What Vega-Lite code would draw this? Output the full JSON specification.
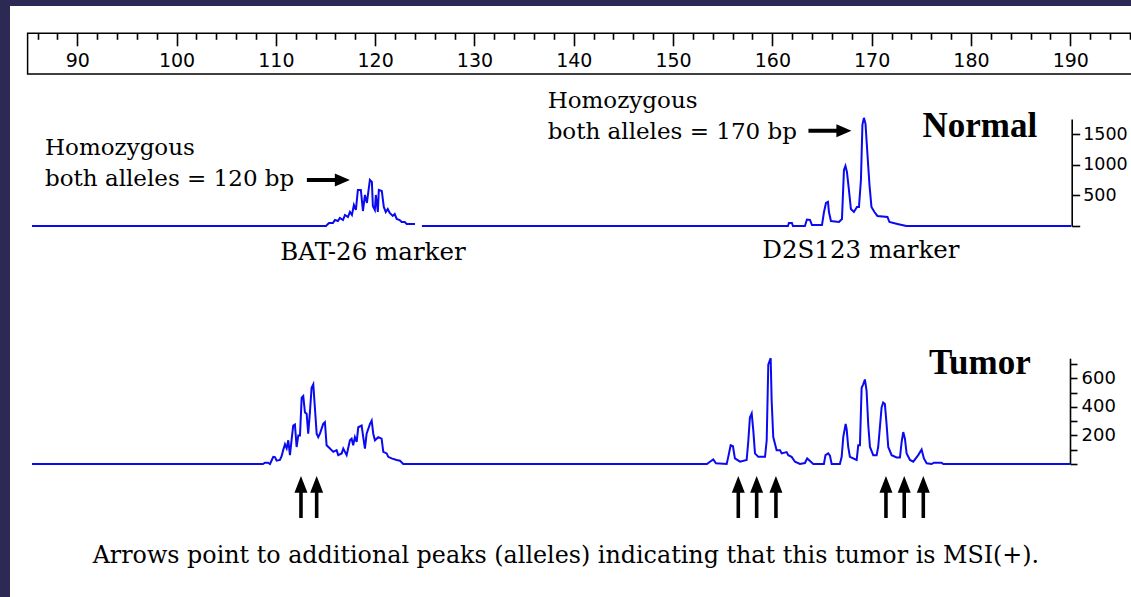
{
  "$schema": "https://vega.github.io/schema/vega-lite/v6.json",
  "width": 1121,
  "height": 591,
  "autosize": {"type": "none"},
  "padding": {"left": 10, "top": 6, "right": 0, "bottom": 0},
  "background": "#2c2a54",
  "config": {"view": {"fill": "white", "stroke": null}},
  "datasets": {
    "normal": [
      {"bp": 85.44, "v": 0, "seg": 1}, {"bp": 115.05, "v": 0, "seg": 1}, {"bp": 115.35, "v": 49, "seg": 1}, {"bp": 115.75, "v": 49, "seg": 1},
      {"bp": 115.95, "v": 98, "seg": 1}, {"bp": 116.25, "v": 82, "seg": 1}, {"bp": 116.45, "v": 131, "seg": 1}, {"bp": 116.76, "v": 98, "seg": 1},
      {"bp": 116.96, "v": 180, "seg": 1}, {"bp": 117.26, "v": 147, "seg": 1}, {"bp": 117.46, "v": 229, "seg": 1}, {"bp": 117.66, "v": 180, "seg": 1},
      {"bp": 117.86, "v": 344, "seg": 1}, {"bp": 118.06, "v": 262, "seg": 1}, {"bp": 118.26, "v": 589, "seg": 1}, {"bp": 118.56, "v": 589, "seg": 1},
      {"bp": 118.77, "v": 245, "seg": 1}, {"bp": 118.97, "v": 507, "seg": 1}, {"bp": 119.17, "v": 376, "seg": 1}, {"bp": 119.47, "v": 753, "seg": 1},
      {"bp": 119.67, "v": 720, "seg": 1}, {"bp": 119.77, "v": 327, "seg": 1}, {"bp": 119.97, "v": 262, "seg": 1}, {"bp": 120.07, "v": 507, "seg": 1},
      {"bp": 120.27, "v": 229, "seg": 1}, {"bp": 120.37, "v": 589, "seg": 1}, {"bp": 120.67, "v": 573, "seg": 1}, {"bp": 120.87, "v": 311, "seg": 1},
      {"bp": 121.07, "v": 229, "seg": 1}, {"bp": 121.27, "v": 278, "seg": 1}, {"bp": 121.47, "v": 213, "seg": 1}, {"bp": 121.77, "v": 164, "seg": 1},
      {"bp": 121.97, "v": 196, "seg": 1}, {"bp": 122.17, "v": 115, "seg": 1}, {"bp": 122.47, "v": 98, "seg": 1}, {"bp": 122.67, "v": 65, "seg": 1},
      {"bp": 122.97, "v": 65, "seg": 1}, {"bp": 123.18, "v": 33, "seg": 1}, {"bp": 124.01, "v": 33, "seg": 1},
      {"bp": 124.71, "v": 0, "seg": 2}, {"bp": 160.77, "v": 0, "seg": 2}, {"bp": 161.57, "v": 0, "seg": 2}, {"bp": 161.67, "v": 49, "seg": 2},
      {"bp": 161.97, "v": 49, "seg": 2}, {"bp": 162.07, "v": 0, "seg": 2}, {"bp": 163.28, "v": 0, "seg": 2}, {"bp": 163.48, "v": 106, "seg": 2},
      {"bp": 163.79, "v": 98, "seg": 2}, {"bp": 163.99, "v": 16, "seg": 2}, {"bp": 165.0, "v": 16, "seg": 2}, {"bp": 165.2, "v": 229, "seg": 2},
      {"bp": 165.4, "v": 376, "seg": 2}, {"bp": 165.6, "v": 393, "seg": 2}, {"bp": 165.7, "v": 229, "seg": 2}, {"bp": 165.9, "v": 82, "seg": 2},
      {"bp": 166.71, "v": 65, "seg": 2}, {"bp": 167.01, "v": 115, "seg": 2}, {"bp": 167.21, "v": 916, "seg": 2}, {"bp": 167.36, "v": 982, "seg": 2},
      {"bp": 167.51, "v": 883, "seg": 2}, {"bp": 167.71, "v": 589, "seg": 2}, {"bp": 167.91, "v": 278, "seg": 2}, {"bp": 168.21, "v": 229, "seg": 2},
      {"bp": 168.52, "v": 311, "seg": 2}, {"bp": 168.72, "v": 311, "seg": 2}, {"bp": 168.92, "v": 753, "seg": 2}, {"bp": 169.07, "v": 1652, "seg": 2},
      {"bp": 169.22, "v": 1767, "seg": 2}, {"bp": 169.38, "v": 1669, "seg": 2}, {"bp": 169.58, "v": 1162, "seg": 2}, {"bp": 169.78, "v": 671, "seg": 2},
      {"bp": 169.98, "v": 311, "seg": 2}, {"bp": 170.28, "v": 229, "seg": 2}, {"bp": 170.58, "v": 164, "seg": 2}, {"bp": 171.59, "v": 147, "seg": 2},
      {"bp": 171.79, "v": 65, "seg": 2}, {"bp": 172.59, "v": 33, "seg": 2}, {"bp": 173.5, "v": 0, "seg": 2}, {"bp": 190.1, "v": 0, "seg": 2}
    ],
    "tumor": [
      {"bp": 85.44, "v": 0}, {"bp": 108.7, "v": 0}, {"bp": 108.9, "v": 9}, {"bp": 109.2, "v": 9}, {"bp": 109.41, "v": 0}, {"bp": 109.74, "v": 50},
      {"bp": 109.91, "v": 48}, {"bp": 110.08, "v": 23}, {"bp": 110.41, "v": 28}, {"bp": 110.58, "v": 55}, {"bp": 110.74, "v": 97}, {"bp": 110.92, "v": 138},
      {"bp": 111.09, "v": 110}, {"bp": 111.25, "v": 166}, {"bp": 111.42, "v": 62}, {"bp": 111.59, "v": 172}, {"bp": 111.75, "v": 269}, {"bp": 111.92, "v": 276},
      {"bp": 112.09, "v": 119}, {"bp": 112.26, "v": 200}, {"bp": 112.43, "v": 200}, {"bp": 112.6, "v": 464}, {"bp": 112.76, "v": 476}, {"bp": 112.93, "v": 361},
      {"bp": 113.1, "v": 352}, {"bp": 113.26, "v": 212}, {"bp": 113.43, "v": 361}, {"bp": 113.6, "v": 533}, {"bp": 113.77, "v": 557}, {"bp": 113.93, "v": 395},
      {"bp": 114.11, "v": 212}, {"bp": 114.27, "v": 188}, {"bp": 114.44, "v": 212}, {"bp": 114.77, "v": 281}, {"bp": 114.94, "v": 292}, {"bp": 115.11, "v": 131},
      {"bp": 115.45, "v": 108}, {"bp": 115.78, "v": 85}, {"bp": 116.12, "v": 97}, {"bp": 116.28, "v": 62}, {"bp": 116.63, "v": 74}, {"bp": 116.79, "v": 108},
      {"bp": 116.96, "v": 85}, {"bp": 117.13, "v": 62}, {"bp": 117.46, "v": 166}, {"bp": 117.63, "v": 177}, {"bp": 117.79, "v": 131}, {"bp": 117.96, "v": 188},
      {"bp": 118.14, "v": 154}, {"bp": 118.3, "v": 257}, {"bp": 118.64, "v": 269}, {"bp": 118.8, "v": 188}, {"bp": 118.97, "v": 108}, {"bp": 119.14, "v": 212},
      {"bp": 119.48, "v": 281}, {"bp": 119.65, "v": 304}, {"bp": 119.81, "v": 212}, {"bp": 119.98, "v": 166}, {"bp": 120.15, "v": 177}, {"bp": 120.31, "v": 188},
      {"bp": 120.65, "v": 177}, {"bp": 120.82, "v": 85}, {"bp": 121.16, "v": 74}, {"bp": 121.32, "v": 50}, {"bp": 121.66, "v": 39}, {"bp": 122.16, "v": 28},
      {"bp": 122.5, "v": 23}, {"bp": 122.83, "v": 0},
      {"bp": 153.41, "v": 0}, {"bp": 153.72, "v": 16}, {"bp": 154.05, "v": 32}, {"bp": 154.32, "v": 5}, {"bp": 155.4, "v": 0}, {"bp": 155.56, "v": 50},
      {"bp": 155.8, "v": 131}, {"bp": 156.03, "v": 124}, {"bp": 156.23, "v": 39}, {"bp": 156.74, "v": 16}, {"bp": 157.41, "v": 28}, {"bp": 157.57, "v": 154},
      {"bp": 157.74, "v": 326}, {"bp": 157.92, "v": 354}, {"bp": 158.08, "v": 235}, {"bp": 158.25, "v": 74}, {"bp": 158.58, "v": 50}, {"bp": 159.26, "v": 50},
      {"bp": 159.43, "v": 166}, {"bp": 159.59, "v": 695}, {"bp": 159.83, "v": 740}, {"bp": 159.93, "v": 442}, {"bp": 160.09, "v": 188}, {"bp": 160.43, "v": 97},
      {"bp": 160.77, "v": 97}, {"bp": 160.94, "v": 74}, {"bp": 161.44, "v": 83}, {"bp": 161.6, "v": 62}, {"bp": 161.94, "v": 50}, {"bp": 162.28, "v": 16},
      {"bp": 162.78, "v": 0}, {"bp": 163.28, "v": 7}, {"bp": 163.51, "v": 39}, {"bp": 163.79, "v": 21}, {"bp": 164.12, "v": 0}, {"bp": 165.19, "v": 0},
      {"bp": 165.35, "v": 62}, {"bp": 165.63, "v": 74}, {"bp": 165.8, "v": 59}, {"bp": 165.97, "v": 0}, {"bp": 166.8, "v": 0}, {"bp": 166.98, "v": 50},
      {"bp": 167.14, "v": 188}, {"bp": 167.38, "v": 281}, {"bp": 167.48, "v": 246}, {"bp": 167.64, "v": 119}, {"bp": 167.81, "v": 50}, {"bp": 168.49, "v": 28},
      {"bp": 168.65, "v": 131}, {"bp": 168.82, "v": 131}, {"bp": 168.99, "v": 533}, {"bp": 169.15, "v": 557}, {"bp": 169.32, "v": 591}, {"bp": 169.49, "v": 511},
      {"bp": 169.66, "v": 269}, {"bp": 169.83, "v": 119}, {"bp": 170.16, "v": 62}, {"bp": 170.5, "v": 62}, {"bp": 170.66, "v": 119}, {"bp": 171.0, "v": 395},
      {"bp": 171.16, "v": 430}, {"bp": 171.33, "v": 419}, {"bp": 171.5, "v": 281}, {"bp": 171.67, "v": 119}, {"bp": 172.01, "v": 62}, {"bp": 172.51, "v": 46},
      {"bp": 172.85, "v": 46}, {"bp": 173.02, "v": 154}, {"bp": 173.18, "v": 223}, {"bp": 173.35, "v": 177}, {"bp": 173.52, "v": 74}, {"bp": 173.86, "v": 28},
      {"bp": 174.19, "v": 16}, {"bp": 174.69, "v": 62}, {"bp": 175.03, "v": 101}, {"bp": 175.26, "v": 39}, {"bp": 175.54, "v": 5}, {"bp": 176.04, "v": 0},
      {"bp": 176.27, "v": 9}, {"bp": 177.04, "v": 9}, {"bp": 177.21, "v": 0}, {"bp": 189.97, "v": 0}
    ],
    "arrows": [
      {"bp": 112.53}, {"bp": 114.11}, {"bp": 156.57}, {"bp": 158.42}, {"bp": 160.36}, {"bp": 171.44}, {"bp": 173.28}, {"bp": 175.2}
    ]
  },
  "resolve": {"scale": {"y": "independent"}, "axis": {"x": "independent", "y": "independent"}},
  "layer": [
    {
      "data": {"values": [{}]},
      "mark": {"type": "rect", "fill": "transparent", "stroke": "black", "strokeWidth": 1.5},
      "encoding": {
        "x": {"datum": 85, "type": "quantitative", "scale": {"domain": [85, 198], "range": [17.6, 1139.7], "nice": false, "zero": false},
          "axis": {"orient": "bottom", "offset": -563.7, "zindex": 2, "values": [90, 100, 110, 120, 130, 140, 150, 160, 170, 180, 190], "ticks": true, "tickSize": 12.5, "tickWidth": 1.6, "tickColor": "black", "tickOpacity": 1, "domain": false, "grid": false, "labelFont": "DejaVu Sans", "labelFontSize": 19, "labelColor": "black", "labelPadding": 6, "title": null, "labelOverlap": false, "labelFlush": false, "format": "d"}},
        "x2": {"datum": 198},
        "y": {"datum": 0, "type": "quantitative", "scale": {"domain": [0, 1], "range": [68, 27.3], "nice": false, "zero": false}, "axis": null},
        "y2": {"datum": 1}
      }
    },
    {
      "data": {"name": "normal"},
      "mark": {"type": "line", "color": "#0a0af0", "strokeWidth": 2},
      "encoding": {
        "x": {"field": "bp", "type": "quantitative", "scale": {"domain": [85, 198], "range": [17.6, 1139.7], "nice": false, "zero": false},
          "axis": {"orient": "bottom", "offset": -563.7, "zindex": 2, "values": [86, 88, 92, 94, 96, 98, 102, 104, 106, 108, 112, 114, 116, 118, 122, 124, 126, 128, 132, 134, 136, 138, 142, 144, 146, 148, 152, 154, 156, 158, 162, 164, 166, 168, 172, 174, 176, 178, 182, 184, 186, 188, 192, 194, 196, 198], "ticks": true, "tickSize": 6, "tickWidth": 1.6, "tickColor": "black", "tickOpacity": 1, "domain": false, "labels": false, "grid": false, "title": null}},
        "y": {"field": "v", "type": "quantitative", "scale": {"domain": [0, 1750], "range": [220, 112.9], "nice": false, "zero": false},
          "axis": {"orient": "right", "offset": -59.3, "zindex": 2, "values": [0, 500, 1000, 1500], "format": "d", "ticks": true, "tickSize": 8, "tickWidth": 1.6, "tickColor": "black", "domain": true, "domainColor": "black", "domainWidth": 1.6, "labelFont": "DejaVu Sans", "labelFontSize": 17.5, "labelColor": "black", "labelPadding": 3, "title": null, "grid": false, "labelOverlap": false, "labelFlush": false, "labelExpr": "datum.value == 0 ? '' : datum.label"}},
        "detail": {"field": "seg"}
      }
    },
    {
      "data": {"name": "tumor"},
      "mark": {"type": "line", "color": "#0a0af0", "strokeWidth": 2},
      "encoding": {
        "x": {"field": "bp", "type": "quantitative", "scale": {"domain": [85, 198], "range": [17.6, 1139.7], "nice": false, "zero": false}, "axis": null},
        "y": {"field": "v", "type": "quantitative", "scale": {"domain": [0, 740], "range": [458, 352.2], "nice": false, "zero": false},
          "axis": {"orient": "right", "offset": -61, "zindex": 2, "values": [0, 100, 200, 300, 400, 500, 600, 700], "format": "d", "ticks": true, "tickSize": 7, "tickWidth": 1.6, "tickColor": "black", "domain": true, "domainColor": "black", "domainWidth": 1.6, "labelFont": "DejaVu Sans", "labelFontSize": 18, "labelColor": "black", "labelPadding": 4, "title": null, "grid": false, "labelOverlap": false, "labelFlush": false, "labelExpr": "datum.value > 0 && datum.value % 200 == 0 ? datum.label : ''"}}
      }
    },
    {
      "data": {"values": [{}]},
      "mark": {"type": "text", "text": ["Homozygous", "both alleles = 120 bp"], "align": "left", "baseline": "alphabetic", "font": "DejaVu Serif", "fontSize": 23, "lineHeight": 31, "color": "black"},
      "encoding": {
        "x": {"datum": 86.75, "type": "quantitative", "scale": {"domain": [85, 198], "range": [17.6, 1139.7], "nice": false, "zero": false}, "axis": null},
        "y": {"datum": 1160, "type": "quantitative", "scale": {"domain": [0, 1750], "range": [220, 112.9], "nice": false, "zero": false}, "axis": null}
      }
    },
    {
      "data": {"values": [{}]},
      "mark": {"type": "text", "text": ["Homozygous", "both alleles = 170 bp"], "align": "left", "baseline": "alphabetic", "font": "DejaVu Serif", "fontSize": 23, "lineHeight": 31, "color": "black"},
      "encoding": {
        "x": {"datum": 137.37, "type": "quantitative", "scale": {"domain": [85, 198], "range": [17.6, 1139.7], "nice": false, "zero": false}, "axis": null},
        "y": {"datum": 1928, "type": "quantitative", "scale": {"domain": [0, 1750], "range": [220, 112.9], "nice": false, "zero": false}, "axis": null}
      }
    },
    {
      "data": {"values": [{"bp": 115.29, "v": 752}, {"bp": 165.8, "v": 1557}]},
      "mark": {"type": "point", "shape": "M1,0L0.3,-0.3L0.3,-0.09L-1,-0.09L-1,0.09L0.3,0.09L0.3,0.3Z", "size": 1849, "filled": true, "color": "black", "opacity": 1, "strokeWidth": 0},
      "encoding": {
        "x": {"field": "bp", "type": "quantitative", "scale": {"domain": [85, 198], "range": [17.6, 1139.7], "nice": false, "zero": false}, "axis": null},
        "y": {"field": "v", "type": "quantitative", "scale": {"domain": [0, 1750], "range": [220, 112.9], "nice": false, "zero": false}, "axis": null}
      }
    },
    {
      "data": {"values": [{}]},
      "mark": {"type": "text", "text": "BAT-26 marker", "align": "center", "baseline": "alphabetic", "font": "DejaVu Serif", "fontSize": 24.5, "color": "black"},
      "encoding": {
        "x": {"datum": 119.78, "type": "quantitative", "scale": {"domain": [85, 198], "range": [17.6, 1139.7], "nice": false, "zero": false}, "axis": null},
        "y": {"datum": -556, "type": "quantitative", "scale": {"domain": [0, 1750], "range": [220, 112.9], "nice": false, "zero": false}, "axis": null}
      }
    },
    {
      "data": {"values": [{}]},
      "mark": {"type": "text", "text": "D2S123 marker", "align": "center", "baseline": "alphabetic", "font": "DejaVu Serif", "fontSize": 24.5, "color": "black"},
      "encoding": {
        "x": {"datum": 168.92, "type": "quantitative", "scale": {"domain": [85, 198], "range": [17.6, 1139.7], "nice": false, "zero": false}, "axis": null},
        "y": {"datum": -523, "type": "quantitative", "scale": {"domain": [0, 1750], "range": [220, 112.9], "nice": false, "zero": false}, "axis": null}
      }
    },
    {
      "data": {"values": [{}]},
      "mark": {"type": "text", "text": "Normal", "align": "center", "baseline": "alphabetic", "font": "Liberation Serif", "fontWeight": "bold", "fontSize": 35, "color": "black"},
      "encoding": {
        "x": {"datum": 180.89, "type": "quantitative", "scale": {"domain": [85, 198], "range": [17.6, 1139.7], "nice": false, "zero": false}, "axis": null},
        "y": {"datum": 1454, "type": "quantitative", "scale": {"domain": [0, 1750], "range": [220, 112.9], "nice": false, "zero": false}, "axis": null}
      }
    },
    {
      "data": {"name": "arrows"},
      "mark": {"type": "point", "shape": "M0,-1L0.31,-0.2L0.085,-0.2L0.085,1L-0.085,1L-0.085,-0.2L-0.31,-0.2Z", "size": 1764, "filled": true, "color": "black", "opacity": 1, "strokeWidth": 0},
      "encoding": {
        "x": {"field": "bp", "type": "quantitative", "scale": {"domain": [85, 198], "range": [17.6, 1139.7], "nice": false, "zero": false}, "axis": null},
        "y": {"datum": -231, "type": "quantitative", "scale": {"domain": [0, 740], "range": [458, 352.2], "nice": false, "zero": false}, "axis": null}
      }
    },
    {
      "data": {"values": [{}]},
      "mark": {"type": "text", "text": "Tumor", "align": "center", "baseline": "alphabetic", "font": "Liberation Serif", "fontWeight": "bold", "fontSize": 35, "color": "black"},
      "encoding": {
        "x": {"datum": 180.89, "type": "quantitative", "scale": {"domain": [85, 198], "range": [17.6, 1139.7], "nice": false, "zero": false}, "axis": null},
        "y": {"datum": 629, "type": "quantitative", "scale": {"domain": [0, 740], "range": [458, 352.2], "nice": false, "zero": false}, "axis": null}
      }
    },
    {
      "data": {"values": [{}]},
      "mark": {"type": "text", "text": "Arrows point to additional peaks (alleles) indicating that this tumor is MSI(+).", "align": "center", "baseline": "alphabetic", "font": "DejaVu Serif", "fontSize": 23.8, "color": "black"},
      "encoding": {
        "x": {"datum": 139.21, "type": "quantitative", "scale": {"domain": [85, 198], "range": [17.6, 1139.7], "nice": false, "zero": false}, "axis": null},
        "y": {"datum": -692, "type": "quantitative", "scale": {"domain": [0, 740], "range": [458, 352.2], "nice": false, "zero": false}, "axis": null}
      }
    }
  ]
}
